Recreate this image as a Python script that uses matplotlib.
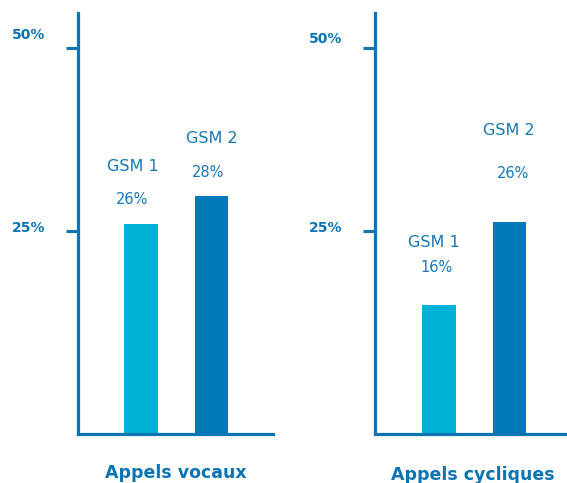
import numpy as np
import matplotlib
matplotlib.use("Agg")
import matplotlib.pyplot as plt
import matplotlib.transforms as transforms

plt.rcParams['font.family'] = ['DejaVu Sans']

BLUE = "#0a74b4"
TEXT = "#1478bb"
COLORS = ["#00b3d6", "#0079b8"]

# data
titles = ["Appels vocaux", "Appels cycliques"]
series = ["GSM 1", "GSM 2"]
values = [[25.9, 29.3], [15.9, 26.1]]
value_labels = [["26%", "28%"], ["16%", "26%"]]
tick_values = [25, 47.5]
tick_labels = ["25%", "50%"]

fw, fh = 5.67, 4.83
fig = plt.figure(figsize=(fw, fh), dpi=100)
W, H = 567, 483

# axes boxes in pixels: left, right
boxes = [(78, 273), (375, 567)]
top_px, base_px = 13, 434
ymax = (base_px - top_px) / 8.12

# label offsets (pixels) for name / value text: (dx, dy above bar top)
name_off = [[(-8, 57), (0, 58)], [(-5, 62), (-1, 92)]]
val_off = [[(-9, 24), (-3, 24)], [(-2, 37), (4, 49)]]
# tick label y (data units) per panel
tick_text_y = [[25.4, 49.1], [25.4, 48.6]]
title_pos = [(176, 473), (473, 475)]

for p in range(2):
    x0, x1 = boxes[p]
    ax = fig.add_axes([x0 / W, (H - base_px) / H, (x1 - x0) / W,
                       (base_px - top_px) / H])
    unit = 70.5
    left = -(63 + p) / unit
    ax.set_xlim(left, left + (x1 - x0) / unit)
    ax.set_ylim(0, ymax)

    xpos = np.arange(len(series))
    ax.bar(xpos, values[p], width=0.48, color=COLORS, linewidth=0)

    for side in ['top', 'right']:
        ax.spines[side].set_visible(False)
    for side in ['left', 'bottom']:
        ax.spines[side].set_color(BLUE)
        ax.spines[side].set_linewidth(2.3)
        ax.spines[side].set_capstyle('projecting')
    ax.set_xticks([])
    ax.set_yticks(tick_values)
    ax.set_yticklabels([])
    ax.tick_params(axis='y', direction='out', length=8.5, width=2.2,
                   color=BLUE)

    trans = transforms.blended_transform_factory(ax.transAxes, ax.transData)
    pad = transforms.ScaledTranslation(-33 / 100, 0, fig.dpi_scale_trans)
    for lab, ty in zip(tick_labels, tick_text_y[p]):
        ax.text(0, ty, lab, ha='right', va='center', fontsize=10,
                fontweight='bold', color=BLUE, transform=trans + pad)

    for i in range(len(series)):
        dx, dy = name_off[p][i]
        ax.annotate(series[i], (xpos[i], values[p][i]),
                    xytext=(dx, dy), textcoords='offset pixels',
                    ha='center', va='center', fontsize=11.5, color=TEXT)
        dx, dy = val_off[p][i]
        ax.annotate(value_labels[p][i], (xpos[i], values[p][i]),
                    xytext=(dx, dy), textcoords='offset pixels',
                    ha='center', va='center', fontsize=10.5, color=TEXT)

    tx, ty = title_pos[p]
    fig.text(tx / W, 1 - ty / H, titles[p], ha='center', va='center',
             fontsize=12.5, fontweight='bold', color=BLUE)

fig.savefig("out.png", dpi=100)
